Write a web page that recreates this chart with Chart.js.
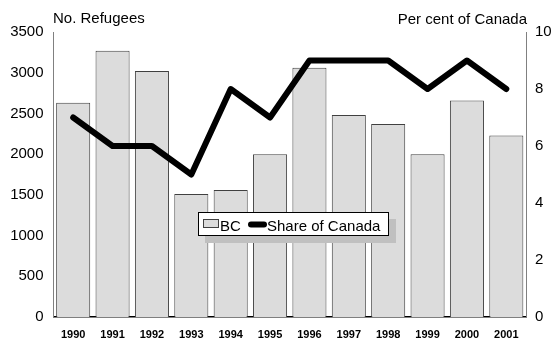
<!DOCTYPE html>
<html>
<head>
<meta charset="utf-8">
<script src="https://cdn.jsdelivr.net/npm/chart.js@4.4.1/dist/chart.umd.min.js"></script>
<style>
  html, body { margin: 0; padding: 0; background: #fff; overflow: hidden; }
  #wrap { width: 554px; height: 339px; }
  canvas { display: block; }
</style>
</head>
<body>
<div id="wrap"><canvas id="myCanvas" width="554" height="339"></canvas></div>
<script>
// refugees settling in BC per year, and BC's share of the Canadian total
const years = ["1990", "1991", "1992", "1993", "1994", "1995", "1996", "1997", "1998", "1999", "2000", "2001"];
const refugeesBC = [2630, 3270, 3020, 1510, 1560, 2000, 3060, 2480, 2370, 2000, 2660, 2230];
const shareCanada = [7, 6, 6, 5, 8, 7, 9, 9, 9, 8, 9, 8];

const leftTicks = [0, 500, 1000, 1500, 2000, 2500, 3000, 3500];
const rightTicks = [0, 2, 4, 6, 8, 10];

const FONT = "'Liberation Sans', Arial, sans-serif";

// axis titles above the plot and the boxed legend with its drop shadow
const extras = {
    id: "extras",
    afterDraw(chart) {
        const ctx = chart.ctx;
        ctx.save();
        ctx.font = "15px " + FONT;
        ctx.fillStyle = "#000";
        ctx.textBaseline = "middle";
        ctx.textAlign = "left";
        ctx.fillText("No. Refugees", 53, 19);
        ctx.textAlign = "right";
        ctx.fillText("Per cent of Canada", 527, 20);

        // legend
        const lx = 198, ly = 212, lw = 191, lh = 24;
        ctx.fillStyle = "#c0c0c0";
        ctx.fillRect(lx + 7, ly + 7, lw, lh);
        ctx.fillStyle = "#fff";
        ctx.fillRect(lx, ly, lw, lh);
        ctx.strokeStyle = "#000";
        ctx.lineWidth = 1;
        ctx.strokeRect(lx + 0.5, ly + 0.5, lw - 1, lh - 1);

        ctx.fillStyle = "#dcdcdc";
        ctx.fillRect(203.5, 219.5, 15, 8);
        ctx.strokeStyle = "#404040";
        ctx.strokeRect(203.5, 219.5, 15, 8);

        ctx.strokeStyle = "#000";
        ctx.lineWidth = 6;
        ctx.lineCap = "round";
        ctx.beginPath();
        ctx.moveTo(251, 224.5);
        ctx.lineTo(264, 224.5);
        ctx.stroke();

        ctx.fillStyle = "#000";
        ctx.textAlign = "left";
        ctx.fillText("BC", 220, 227);
        ctx.fillText("Share of Canada", 267, 227);
        ctx.restore();
    }
};

const ctx = document.getElementById("myCanvas").getContext("2d");

const chart = new Chart(ctx, {
    data: {
        labels: years,
        datasets: [
            {
                type: "line",
                label: "Share of Canada",
                data: shareCanada,
                yAxisID: "yRight",
                borderColor: "#000",
                borderWidth: 6,
                borderCapStyle: "round",
                borderJoinStyle: "round",
                pointRadius: 0,
                tension: 0,
                order: 0
            },
            {
                type: "bar",
                label: "BC",
                data: refugeesBC,
                yAxisID: "yLeft",
                backgroundColor: "#dcdcdc",
                borderColor: "#404040",
                borderWidth: 1,
                barPercentage: 0.865,
                categoryPercentage: 1,
                order: 1
            }
        ]
    },
    options: {
        responsive: false,
        animation: false,
        events: [],
        layout: { padding: { top: 32, left: 0, right: 0, bottom: 0 } },
        plugins: {
            legend: { display: false },
            tooltip: { enabled: false }
        },
        scales: {
            x: {
                offset: true,
                grid: { display: false, drawTicks: false },
                border: { display: true, color: "#000", width: 1.5 },
                ticks: {
                    font: { family: FONT, size: 11, weight: "bold" },
                    color: "#000",
                    padding: 11,
                    maxRotation: 0,
                    autoSkip: false
                },
                afterFit(scale) { scale.height = 22; }
            },
            yLeft: {
                position: "left",
                min: 0,
                max: 3500,
                grid: { display: false, drawTicks: false },
                border: { display: true, color: "#808080", width: 1 },
                afterBuildTicks(scale) { scale.ticks = leftTicks.map((v) => ({ value: v })); },
                ticks: {
                    font: { family: FONT, size: 15 },
                    color: "#000",
                    padding: 10,
                    callback: (v) => String(v)
                },
                afterFit(scale) { scale.width = 53.5; }
            },
            yRight: {
                position: "right",
                min: 0,
                max: 10,
                grid: { display: false, drawTicks: false },
                border: { display: true, color: "#808080", width: 1 },
                afterBuildTicks(scale) { scale.ticks = rightTicks.map((v) => ({ value: v })); },
                ticks: {
                    font: { family: FONT, size: 15 },
                    color: "#000",
                    padding: 9,
                    callback: (v) => String(v)
                },
                afterFit(scale) { scale.width = 28; }
            }
        }
    },
    plugins: [extras]
});
</script>
</body>
</html>
